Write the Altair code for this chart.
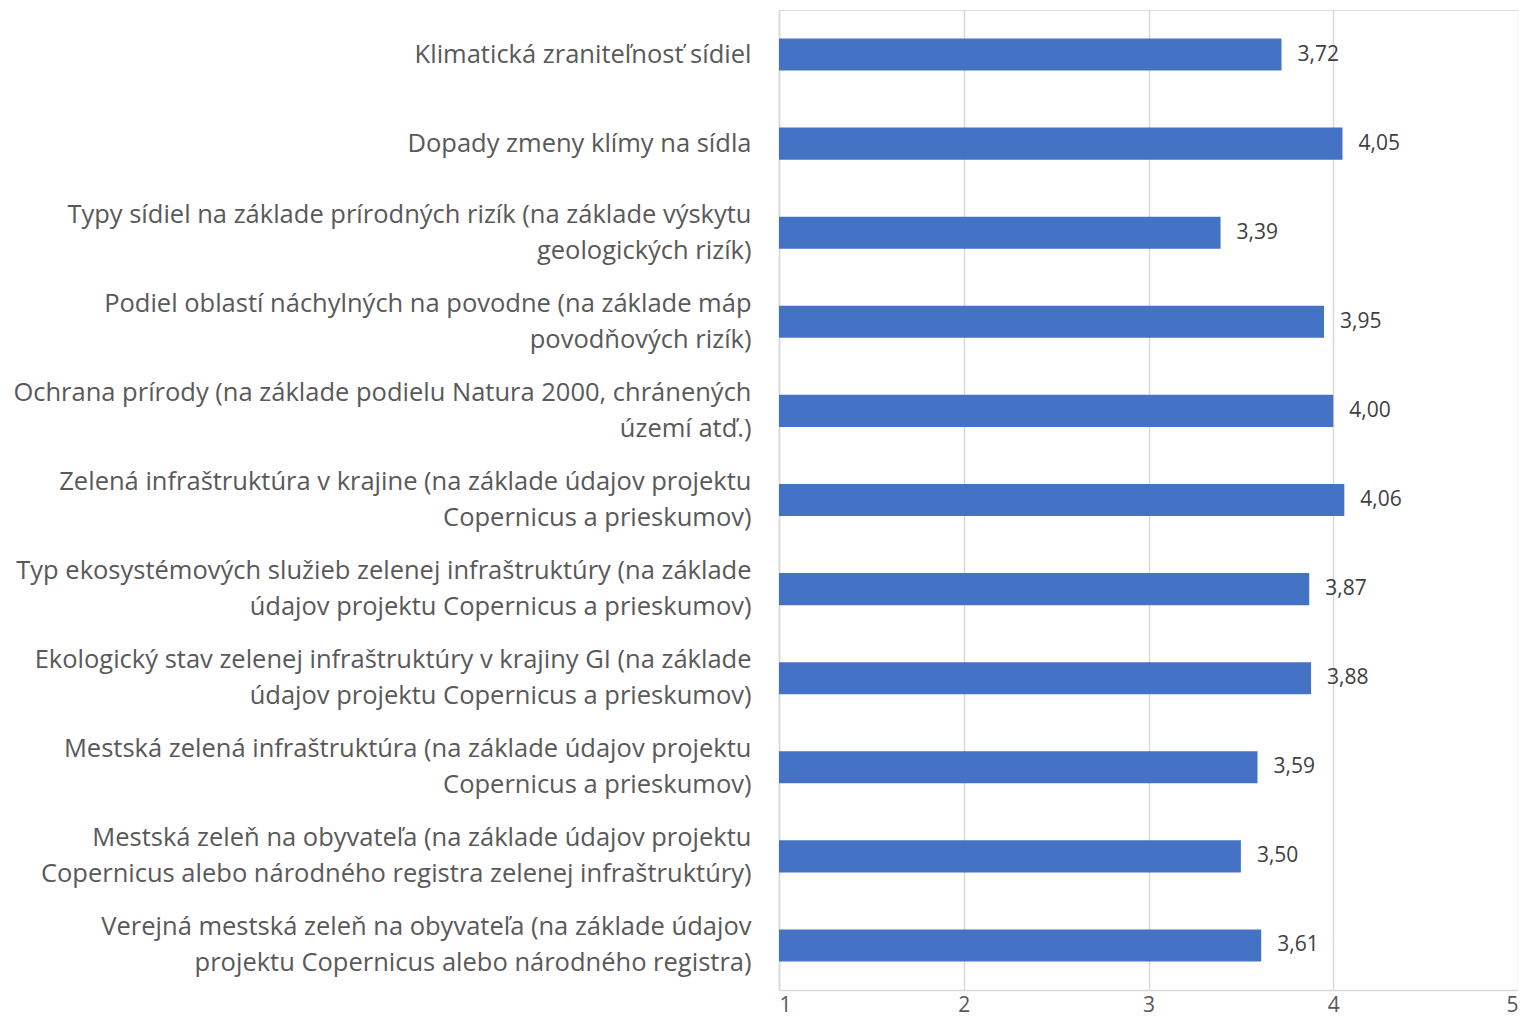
import altair as alt
import pandas as pd

categories = [
    "Klimatická zraniteľnosť sídiel",
    "Dopady zmeny klímy na sídla",
    "Typy sídiel na základe prírodných rizík (na základe výskytu|geologických rizík)",
    "Podiel oblastí náchylných na povodne (na základe máp|povodňových rizík)",
    "Ochrana prírody (na základe podielu Natura 2000, chránených|území atď.)",
    "Zelená infraštruktúra v krajine (na základe údajov projektu|Copernicus a prieskumov)",
    "Typ ekosystémových služieb zelenej infraštruktúry (na základe|údajov projektu Copernicus a prieskumov)",
    "Ekologický stav zelenej infraštruktúry v krajiny GI (na základe|údajov projektu Copernicus a prieskumov)",
    "Mestská zelená infraštruktúra (na základe údajov projektu|Copernicus a prieskumov)",
    "Mestská zeleň na obyvateľa (na základe údajov projektu|Copernicus alebo národného registra zelenej infraštruktúry)",
    "Verejná mestská zeleň na obyvateľa (na základe údajov|projektu Copernicus alebo národného registra)",
]
values = [3.72, 4.05, 3.39, 3.95, 4.00, 4.06, 3.87, 3.88, 3.59, 3.50, 3.61]
x_ticks = [1, 2, 3, 4, 5]

df = pd.DataFrame({"cat": categories, "val": values})
df["lbl"] = df["val"].map(lambda v: f"{v:.2f}".replace(".", ","))

FONT = "Open Sans"
GREY = "#595959"

base = alt.Chart(df).encode(
    y=alt.Y(
        "cat:N",
        sort=None,
        title=None,
        scale=alt.Scale(paddingInner=0.64, paddingOuter=0.32),
        axis=alt.Axis(
            labelExpr="split(datum.label, '|')",
            labelFont=FONT,
            labelFontSize=25.5,
            labelColor=GREY,
            labelLineHeight=36,
            labelPadding=28,
            labelLimit=800,
            labelOffset={
                "condition": {"test": "indexof(datum.value, '|') >= 0", "value": -18},
                "value": 0,
            },
            ticks=False,
            domainColor="#d9d9d9",
            domainWidth=1.5,
            grid=False,
        ),
    )
)

bars = base.mark_bar(color="#4472C4").encode(
    x=alt.X(
        "val:Q",
        title=None,
        scale=alt.Scale(domain=[1, 5], zero=False, nice=False),
        axis=alt.Axis(
            values=x_ticks,
            format="d",
            labelFont=FONT,
            labelFontSize=21,
            labelColor=GREY,
            labelPadding=4,
            ticks=False,
            domainColor="#d9d9d9",
            domainWidth=1.5,
            gridColor="#d9d9d9",
            gridWidth=1.5,
        ),
    ),
    x2=alt.datum(1),
)

text = base.mark_text(
    align="left", dx=16, font=FONT, fontSize=21, color="#404040"
).encode(x="val:Q", text="lbl:N")

chart = (
    alt.layer(bars, text)
    .properties(
        width=739,
        height=980,
        autosize=alt.AutoSizeParams(type="none"),
        padding={"left": 771, "top": 2, "right": 0, "bottom": 32},
    )
    .configure_view(stroke=None)
    .configure(background="white")
)

chart.save("out.html", embed_options={"renderer": "svg", "actions": False})
